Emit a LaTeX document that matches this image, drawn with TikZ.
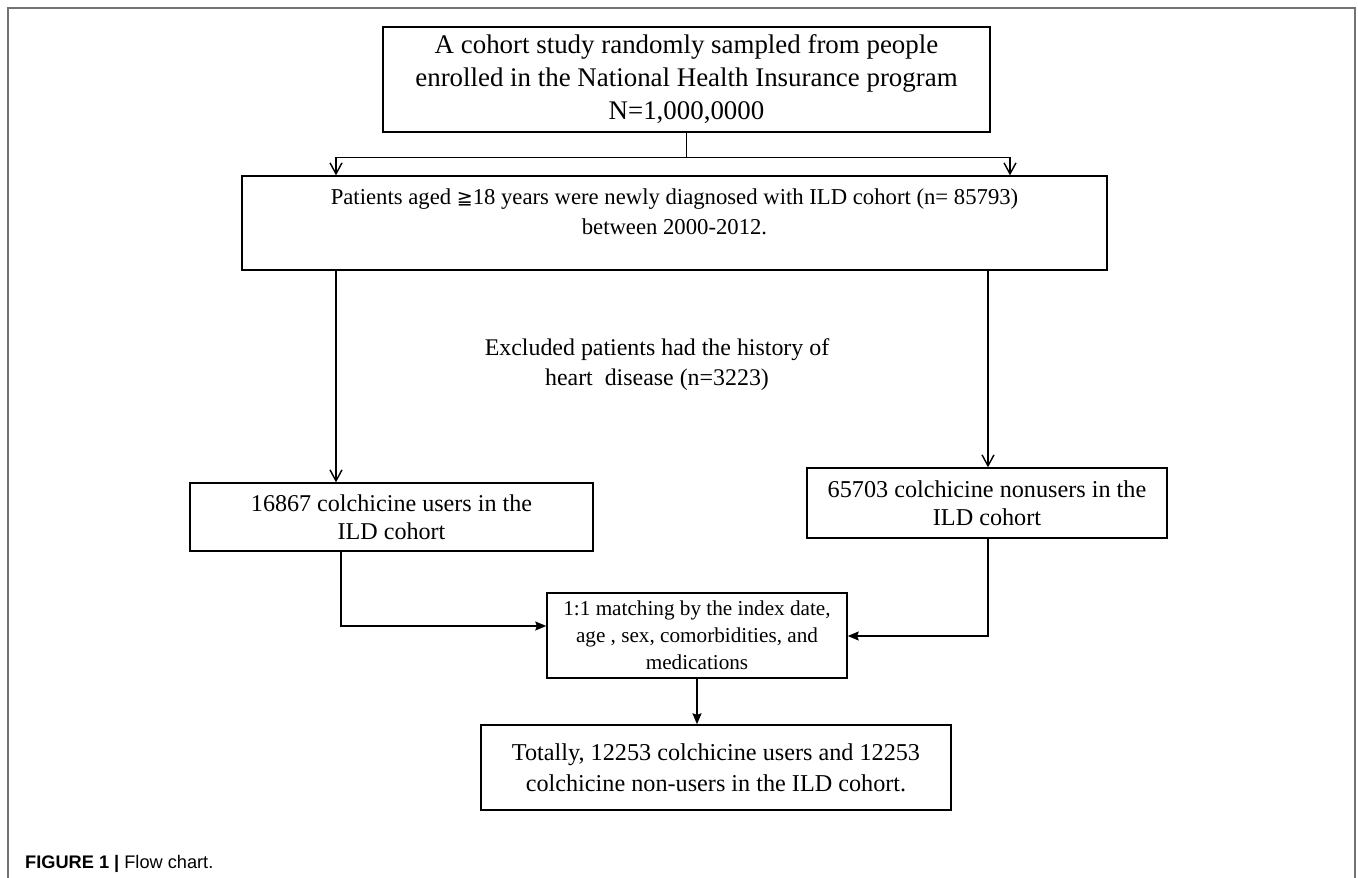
\documentclass[tikz,border=0pt]{standalone}
\usepackage{fontspec}
\setmainfont{Liberation Serif}
\setsansfont{Liberation Sans}
\newfontfamily\symfont{DejaVu Sans}
\usetikzlibrary{arrows.meta}
\definecolor{framecol}{gray}{0.45}
\begin{document}
\begin{tikzpicture}[x=1pt,y=-1pt,
  box/.style={draw,line width=1.4pt,align=center,inner sep=0pt},
  conn/.style={line width=1.4pt},
  openarr/.style={conn,-{Straight Barb[length=11pt,width=12pt]}},
  fillarr/.style={conn,-{Stealth[length=11pt,width=9pt,inset=1.5pt]}}]
\useasboundingbox (0,0) rectangle (1358,878);
\draw[framecol,line width=1.5pt] (8,878) -- (8,8) -- (1355,8) -- (1355,878);

\node[box,minimum width=607,minimum height=105,font=\fontsize{26.9}{33}\selectfont] (b1) at (686.5,79.5)
  {A cohort study randomly sampled from people\\enrolled in the National Health Insurance program\\N=1,000,0000};
\node[box,minimum width=865,minimum height=94,font=\fontsize{22.7}{30}\selectfont] (b2) at (674.5,223)
  {Patients aged {\symfont\fontsize{19}{30}\selectfont ≧}18 years were newly diagnosed with ILD cohort (n= 85793)\\between 2000-2012.\\[-16pt]\strut};
\node[font=\fontsize{23.9}{30}\selectfont,align=center,inner sep=0pt] (ex) at (657,365)
  {Excluded patients had the history of\\heart\ \ disease (n=3223)};
\node[box,minimum width=403,minimum height=68,font=\fontsize{24.1}{28}\selectfont] (b3) at (391.5,517)
  {16867 colchicine users in the\\ILD cohort};
\node[box,minimum width=360,minimum height=70,font=\fontsize{24.2}{28}\selectfont] (b4) at (987,503)
  {65703 colchicine nonusers in the\\ILD cohort};
\node[box,minimum width=300,minimum height=85,font=\fontsize{21.2}{27}\selectfont] (b5) at (697,635.5)
  {1:1 matching by the index date,\\age , sex, comorbidities, and\\medications};
\node[box,minimum width=470,minimum height=85,font=\fontsize{24.2}{31}\selectfont] (b6) at (716,767.5)
  {Totally, 12253 colchicine users and 12253\\colchicine non-users in the ILD cohort.};
\node[anchor=base west,inner sep=0pt,font=\sffamily\fontsize{18.2}{21}\selectfont] (cap) at (25,868.5)
  {\textbf{FIGURE 1 |} Flow chart.};

\coordinate (xa) at (336,0);
\coordinate (xb) at (1010,0);
\coordinate (xc) at (988,0);
\coordinate (xd) at (341,0);
\coordinate (ya) at (0,626);
\coordinate (yb) at (0,636);

\draw[conn] (b1.south) -- ++(0,25) coordinate (j1);
\draw[openarr] (j1) -| (b2.north -| xa);
\draw[openarr] (j1) -| (b2.north -| xb);
\draw[openarr] (b2.south -| xa) -- (b3.north -| xa);
\draw[openarr] (b2.south -| xc) -- (b4.north -| xc);
\draw[fillarr] (b3.south -| xd) |- (b5.west |- ya);
\draw[fillarr] (b4.south -| xc) |- (b5.east |- yb);
\draw[fillarr] (b5.south) -- (b6.north -| b5.south);
\end{tikzpicture}
\end{document}
